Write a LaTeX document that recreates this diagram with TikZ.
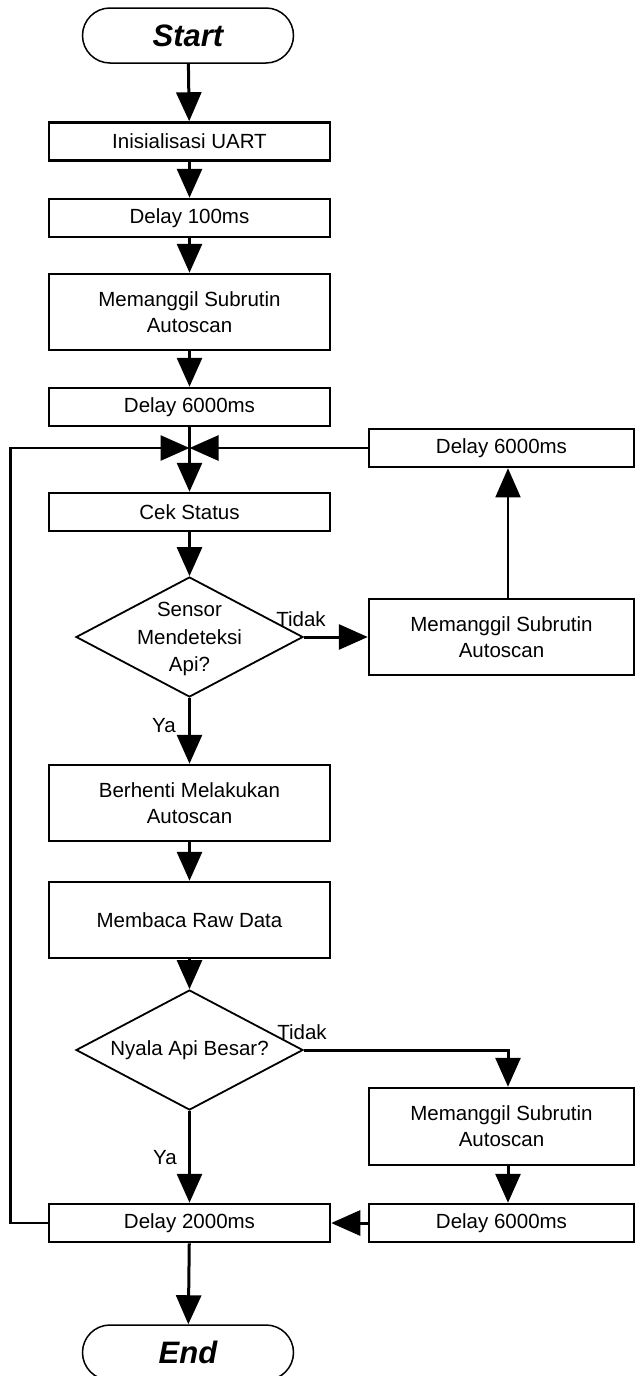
\documentclass[tikz,border=0pt]{standalone}
\usepackage{fontspec}
\setmainfont{Liberation Sans}
\usetikzlibrary{arrows.meta,shapes.geometric,shapes.misc}
\begin{document}
\begin{tikzpicture}[x=1pt,y=-1pt,
  txt/.style={font=\fontsize{20.5}{26}\selectfont,align=center},
  box/.style={txt,draw,line width=2.5pt,rectangle,minimum width=281pt,minimum height=38pt,inner sep=0pt},
  rbox/.style={box,minimum width=265pt},
  term/.style={draw,line width=1.5pt,rounded rectangle,minimum width=211pt,minimum height=55pt,inner sep=0pt,font=\fontsize{31}{36}\selectfont\bfseries\itshape},
  dia/.style={draw,line width=1.8pt,diamond,minimum width=227pt,minimum height=120pt,inner sep=0pt},
  arr/.style={line width=3pt,-{Triangle[length=29pt,width=25pt]}},
  thinarr/.style={line width=1.6pt,-{Triangle[length=29pt,width=25pt]}},
  lbl/.style={txt,inner sep=0pt}
]
\useasboundingbox (0,0) rectangle (640,1376);
% nodes
\node[term] (start) at (188,35.5) {Start};
\node[box] (init) at (189.5,141.5) {Inisialisasi UART};
\node[box] (d100) at (189.5,218) {Delay 100ms};
\node[box,minimum height=76pt] (mem) at (189.5,312) {Memanggil Subrutin\\Autoscan};
\node[box] (d6) at (189.5,407) {Delay 6000ms};
\node[rbox] (rd1) at (501.5,448) {Delay 6000ms};
\node[box] (cek) at (189.5,512) {Cek Status};
\node[dia] (q1) at (189.5,637) {};
\node[txt,font=\fontsize{20.5}{27.5}\selectfont] at ([yshift=-2pt]q1.center) {Sensor\\Mendeteksi\\Api?};
\node[rbox,minimum height=76pt] (rm1) at (501.5,637) {Memanggil Subrutin\\Autoscan};
\node[box,minimum height=76pt] (ber) at (189.5,803) {Berhenti Melakukan\\Autoscan};
\node[box,minimum height=76pt] (raw) at (189.5,920) {Membaca Raw Data};
\node[dia] (q2) at (189.5,1050) {};
\node[txt] at (q2.center) {Nyala Api Besar?};
\node[rbox,minimum height=77pt] (rm2) at (501.5,1126.5) {Memanggil Subrutin\\Autoscan};
\node[rbox] (rd2) at (501.5,1223) {Delay 6000ms};
\node[box] (dk) at (189.5,1223) {Delay 2000ms};
\node[term] (end) at (188,1352.5) {End};
% labels
\node[lbl] (t1) at (301,619) {Tidak};
\node[lbl] (y1) at (164,726) {Ya};
\node[lbl] (t2) at (302,1032) {Tidak};
\node[lbl] (y2) at (165,1158) {Ya};
% helper coordinates
\coordinate (J) at (d6.south |- rd1.west);
\coordinate (rm1n) at ([xshift=6.5pt]rm1.north);
\coordinate (rd1s) at ([xshift=6.5pt]rd1.south);
\coordinate (rm2n) at ([xshift=6.5pt]rm2.north);
\coordinate (rm2s) at ([xshift=6.5pt]rm2.south);
\coordinate (rd2n) at ([xshift=6.5pt]rd2.north);
% connectors
\draw[arr] (start) -- (init);
\draw[arr] (init) -- (d100);
\draw[arr] (d100) -- (mem);
\draw[arr] (mem) -- (d6);
\draw[arr] (d6) -- (cek);
\draw[arr,line width=2.7pt] (rd1.west) -- (J);
\draw[arr,line width=2.7pt] (dk.west) -- ++(-37,0) |- (J);
\draw[arr] (cek) -- (q1.north);
\draw[arr] (q1.east) -- (rm1.west);
\draw[thinarr] (rm1n) -- (rd1s);
\draw[arr] (q1.south) -- (ber.north);
\draw[arr] (ber) -- (raw);
\draw[arr] (raw) -- (q2.north);
\draw[arr] (q2.east) -| (rm2n);
\draw[arr] (rm2s) -- (rd2n);
\draw[arr] (rd2.west) -- (dk.east);
\draw[arr] (q2.south) -- (dk.north);
\draw[arr] (dk) -- (end);
\end{tikzpicture}
\end{document}
